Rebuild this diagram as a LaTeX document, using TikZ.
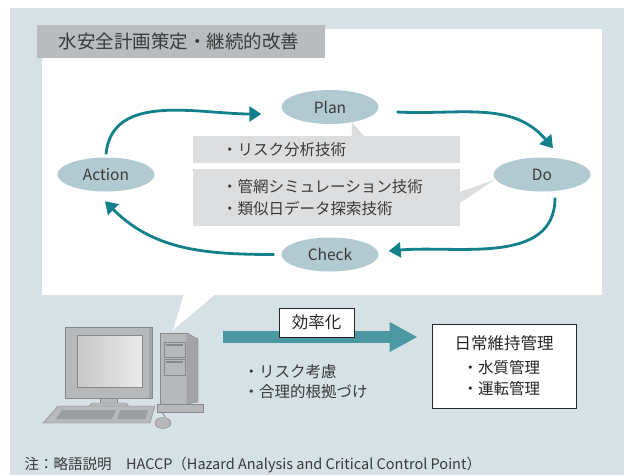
\documentclass[tikz,border=0pt]{standalone}
\usepackage{fontspec}
\setmainfont{Noto Sans CJK JP}
\usetikzlibrary{shapes,arrows,arrows.meta}
\definecolor{bgblue}{HTML}{D6E1E6}
\definecolor{phasefill}{HTML}{B1C9D0}
\definecolor{cycleteal}{HTML}{12808B}
\definecolor{bigteal}{HTML}{4B98A3}
\definecolor{memogray}{HTML}{DCDDDF}
\definecolor{titlegray}{HTML}{B9BCBF}
\definecolor{ink}{HTML}{3A3A3A}
\definecolor{pcbody}{HTML}{B7B8BA}
\definecolor{pcside}{HTML}{A3A4A6}
\definecolor{pcedge}{HTML}{87888A}
\definecolor{pckeys}{HTML}{9C9D9F}
\tikzstyle{phase} = [ellipse, fill=phasefill, text=ink, inner sep=0pt,
    minimum width=97pt, minimum height=34pt, font=\fontsize{15.5}{15.5}\selectfont]
\tikzstyle{memo} = [rectangle, fill=memogray, text=ink, align=left, inner xsep=29pt,
    text width=209pt, font=\fontsize{15.5}{22}\selectfont]
\tikzstyle{turn} = [draw=cycleteal, line width=2.8pt, -{Triangle[length=12pt,width=15pt]}]
\tikzstyle{plainbox} = [rectangle, draw=black!85, fill=white, line width=0.9pt, text=black!85]

\begin{document}
\begin{tikzpicture}[x=1pt,y=1pt]
    \useasboundingbox (0,0) rectangle (624,475);
    % Background, white panel and its pointer
    \fill[bgblue] (10,0) rectangle (624,467);
    \fill[white] (42,180) rectangle (602,446);
    \fill[white] (184,180.5) -- (173,145) -- (215,180.5) -- cycle;
    \fill[titlegray] (37,417) rectangle (325,450);
    \node[anchor=west, text=ink, font=\fontsize{18.5}{18.5}\selectfont] (title) at (55,433.5) {水安全計画策定・継続的改善};

    % Place nodes
    \node [memo, minimum height=27pt] (memo1) at (326.5,325.5) {・リスク分析技術};
    \node [memo, minimum height=57pt] (memo2) at (326.5,277.5) {・管網シミュレーション技術\\・類似日データ探索技術};
    \node [phase] (plan) at (330,368) {Plan};
    \node [phase] (do) at (542,300.5) {Do};
    \node [phase] (check) at (330,220.5) {Check};
    \node [phase] (action) at (106,300.5) {Action};
    \fill[memogray] (352,339) -- (plan.-35) -- (364,339) -- cycle;
    \fill[memogray] (460,283) -- (do.186) -- (460,272) -- cycle;

    % Draw edges
    \path [turn] ([yshift=3pt]action.north) to[out=85,in=180] ([xshift=-20pt,yshift=-7pt]plan.west);
    \path [turn] ([xshift=18pt,yshift=-5pt]plan.east) to[out=-3,in=130] ([xshift=11pt,yshift=9pt]do.north);
    \path [turn] ([xshift=13pt,yshift=-6pt]do.south) to[out=-90,in=5] ([xshift=10pt,yshift=3.5pt]check.east);
    \path [turn] ([xshift=-7pt]check.west) to[out=180,in=-45] ([xshift=-1pt,yshift=-9.5pt]action.south);

    % Computer
    \filldraw[draw=pcedge, fill=pcbody] (65,77) rectangle (152,148);
    \fill[pcside] (148.5,77.5) rectangle (151.5,147.5);
    \filldraw[draw=pcedge, left color=black!22, right color=black!8] (77,88) rectangle (142,140);
    \filldraw[draw=pcedge, fill=pcbody] (100,70) rectangle (117,77);
    \filldraw[draw=pcedge, fill=pcbody] (86,66) -- (131,66) -- (126,72) -- (92,72) -- cycle;
    \filldraw[draw=pcedge, fill=pcbody] (43,52) -- (150,52) -- (155,69) -- (58,69) -- cycle;
    \fill[pckeys] (56,56) -- (112,56) -- (116,65) -- (62,65) -- cycle;
    \fill[pckeys] (117,56) -- (145,56) -- (148,65) -- (120,65) -- cycle;
    \filldraw[draw=pcedge, fill=pcbody] (157,63) rectangle (203,71);
    \filldraw[draw=pcedge, fill=pcbody] (160,71) rectangle (187,142);
    \filldraw[draw=pcedge, fill=pcside] (187,142) -- (198,136) -- (198,73) -- (187,71) -- cycle;
    \filldraw[draw=pcedge, fill=pcbody] (164,118) rectangle (185,133);
    \filldraw[draw=pcedge, fill=pcbody] (164,100) rectangle (185,116);
    \fill[pcedge] (166,129) rectangle (183,131);
    \fill[pcedge] (166,112) rectangle (183,114);
    \draw[pcedge, line width=0.8pt] (165,58) .. controls (163,62) .. (160,63);
    \filldraw[draw=pcedge, fill=pcbody] (163,52) ellipse (8 and 5.5);

    % Efficiency arrow and daily maintenance
    \node [plainbox, minimum width=144pt, minimum height=84pt, align=left, font=\fontsize{15.5}{21}\selectfont] (kanri) at (504,109)
        {{\fontsize{16.5}{16.5}\selectfont 日常維持管理}\\[3pt]\hspace{8pt}・水質管理\\\hspace{8pt}・運転管理};
    \coordinate (pc) at (223,138);
    \path [draw=bigteal, line width=12pt, -{Triangle[length=28pt,width=28pt]}] (pc) -- ([xshift=-14pt]kanri.west |- pc);
    \node [plainbox, minimum width=75pt, minimum height=29pt, font=\fontsize{16.5}{16.5}\selectfont] (eff) at (316.5,152.5) {効率化};
    \node [anchor=west, align=left, text=ink, font=\fontsize{15.5}{20}\selectfont] (merit) at (240,93) {・リスク考慮\\・合理的根拠づけ};

    % Note
    \node [anchor=west, text=ink, font=\fontsize{14.5}{14.5}\selectfont] (note) at (21,10) {注：略語説明　HACCP（Hazard Analysis and Critical Control Point）};
\end{tikzpicture}
\end{document}
